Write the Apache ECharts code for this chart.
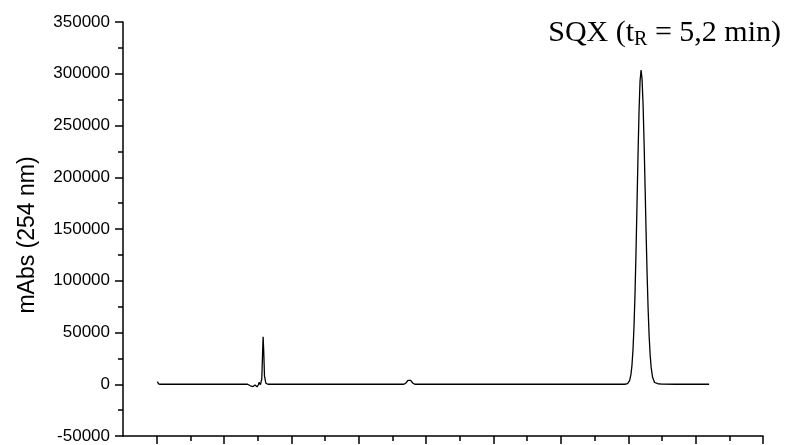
<!DOCTYPE html>
<html><head><meta charset="utf-8">
<script src="https://cdn.jsdelivr.net/npm/echarts@6/dist/echarts.min.js"></script>
<style>html,body{margin:0;padding:0;background:#fff}#c{width:790px;height:445px}</style>
</head><body><div id="c"></div>
<script>
// retention time (arbitrary axis units) and absorbance (mAbs)
const timeValues = [
  0.51, 0.53, 0.56, 0.9, 1.3, 1.7, 1.85, 1.89, 1.93, 1.96, 1.99, 2.01, 2.02, 2.04,
  2.06, 2.07, 2.08, 2.09, 2.10, 2.12, 2.15, 2.6, 3.2, 3.6,
  4.17, 4.20, 4.23, 4.25, 4.27, 4.30, 4.33, 5.0, 5.8, 6.4, 7.0, 7.45,
  7.49, 7.52, 7.54, 7.555, 7.57, 7.585, 7.60, 7.615, 7.63, 7.645, 7.66, 7.675, 7.69,
  7.705, 7.72, 7.735, 7.75, 7.765, 7.78, 7.795, 7.81, 7.825, 7.84, 7.86, 7.89, 7.94,
  8.0, 8.2, 8.7
];
const absValues = [
  2500, 200, 0, 100, 0, 100, 0, -1500, -2200, -800, -2500, -500, 1800, -300,
  5000, 26000, 45900, 30000, 8000, 1000, 0, 0, 200, 0,
  0, 1200, 3800, 4800, 3800, 1200, 0, 0, 200, 0, 100, 0,
  640, 3500, 9500, 18300, 33000, 55500, 87000, 127800, 174500, 222000, 264000, 293000, 303600,
  294500, 270000, 233000, 190000, 146000, 105800, 72300, 46600, 28300, 16300, 7000, 1700, 500,
  200, 0, 0
];
const yTickMin = -50000, yTickMax = 350000, yTickStep = 50000;
const xMin = 0, xMax = 9.5;
const xMajorTicks = [0.5, 1.5, 2.5, 3.5, 4.5, 5.5, 6.5, 7.5, 8.5, 9.5];
const xMinorTicks = [1, 2, 3, 4, 5, 6, 7, 8, 9];
const yAxisTitle = 'mAbs (254 nm)';

const seriesData = timeValues.map((t, i) => [t, absValues[i]]);
const chart = echarts.init(document.getElementById('c'), null, {renderer: 'canvas'});
const sans = 'Liberation Sans, Arial, sans-serif';
const serif = 'Liberation Serif, Times New Roman, serif';
chart.setOption({
  animation: false,
  backgroundColor: '#fff',
  title: {
    text: '{a|SQX (t}{s|R}{a| = 5,2 min)}',
    right: 4, top: 11,
    textStyle: {
      fontWeight: 'normal',
      rich: {
        a: {fontFamily: serif, fontSize: 30, fontWeight: 'normal', color: '#000', lineHeight: 34, verticalAlign: 'middle'},
        s: {fontFamily: serif, fontSize: 20, fontWeight: 'normal', color: '#000', lineHeight: 20, verticalAlign: 'bottom', padding: [10, 0, 0, 0]}
      }
    }
  },
  grid: {left: 123, right: 27, top: 22, bottom: 9, containLabel: false},
  xAxis: [{
    type: 'value', min: xMin, max: xMax, position: 'bottom',
    axisLine: {show: true, onZero: false, lineStyle: {color: '#000', width: 1.5}},
    axisTick: {show: true, length: 8, customValues: xMajorTicks, lineStyle: {color: '#000', width: 1.5}},
    axisLabel: {show: false},
    splitLine: {show: false}
  }, {
    type: 'value', min: xMin, max: xMax, position: 'bottom',
    axisLine: {show: false, onZero: false},
    axisTick: {show: true, length: 5, customValues: xMinorTicks, lineStyle: {color: '#000', width: 1.5}},
    axisLabel: {show: false},
    splitLine: {show: false}
  }],
  yAxis: {
    type: 'value', min: yTickMin, max: yTickMax, interval: yTickStep,
    name: yAxisTitle, nameLocation: 'middle', nameGap: 84,
    nameTextStyle: {fontFamily: sans, fontSize: 23, color: '#000', padding: [0, 12, 0, 0]},
    axisLine: {show: true, lineStyle: {color: '#000', width: 1.5}},
    axisTick: {show: true, length: 8, lineStyle: {color: '#000', width: 1.5}},
    minorTick: {show: true, splitNumber: 2, length: 5, lineStyle: {color: '#000', width: 1.5}},
    axisLabel: {fontFamily: sans, fontSize: 17, color: '#000', margin: 13, formatter: v => String(v)},
    splitLine: {show: false}, minorSplitLine: {show: false}
  },
  series: [{
    type: 'line', data: seriesData, showSymbol: false, symbol: 'none',
    lineStyle: {color: '#000', width: 1.3}, xAxisIndex: 0
  }]
});
</script></body></html>
